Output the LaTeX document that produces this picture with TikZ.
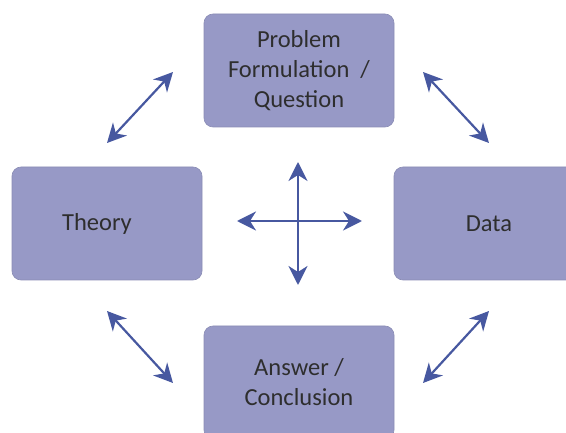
\documentclass[tikz,border=0pt]{standalone}
\usepackage{fontspec}
\setmainfont{Carlito}
\usetikzlibrary{arrows.meta,positioning}
\definecolor{boxfill}{HTML}{9799C6}
\definecolor{boxline}{HTML}{8A8CB4}
\definecolor{arrowblue}{HTML}{4758A0}
\definecolor{textgray}{HTML}{2E2E2E}
\tikzset{
stagebox/.style={
  rectangle,
  rounded corners=9pt,
  fill=boxfill,
  draw=boxline,
  line width=0.6pt,
  minimum width=190pt,
  minimum height=113pt,
  align=center,
  text=textgray,
  font=\fontsize{24.5}{30}\selectfont
  },
linkarrow/.style={
  draw=arrowblue,
  line width=2.2pt,
  {Stealth[length=19pt,width=19pt,inset=6pt]}-{Stealth[length=19pt,width=19pt,inset=6pt]}
  }
}

\begin{document}
\begin{tikzpicture}[x=1pt,y=1pt]
\useasboundingbox (0,0) rectangle (566,432);
\clip (0,0) rectangle (566,432);
% the four stages
\node[stagebox] (problem) at (299,361.5) {Problem\\Formulation\ \ /\\Question};
\node[stagebox] (theory) at (107,208.5) {Theory\hspace*{20pt}};
\node[stagebox] (data) at (489,208.5) {Data};
\node[stagebox] (answer) at (299,49.5) {Answer /\\Conclusion};
% ends of the diagonal arrows
\coordinate (tl1) at (173,360);
\coordinate (tl2) at (107,289);
\coordinate (tr1) at (423,360);
\coordinate (tr2) at (489,289);
\coordinate (bl1) at (107,121);
\coordinate (bl2) at (173,49);
\coordinate (br1) at (489,121);
\coordinate (br2) at (423,49);
% ends of the cross
\coordinate (cw) at (237,211);
\coordinate (ce) at (362,211);
\coordinate (cn) at (298,270);
\coordinate (cs) at (298,147);
\draw[linkarrow] (tl1) -- (tl2);
\draw[linkarrow] (tr1) -- (tr2);
\draw[linkarrow] (bl1) -- (bl2);
\draw[linkarrow] (br1) -- (br2);
\draw[linkarrow] (cw) -- (ce);
\draw[linkarrow] (cn) -- (cs);
\end{tikzpicture}
\end{document}
